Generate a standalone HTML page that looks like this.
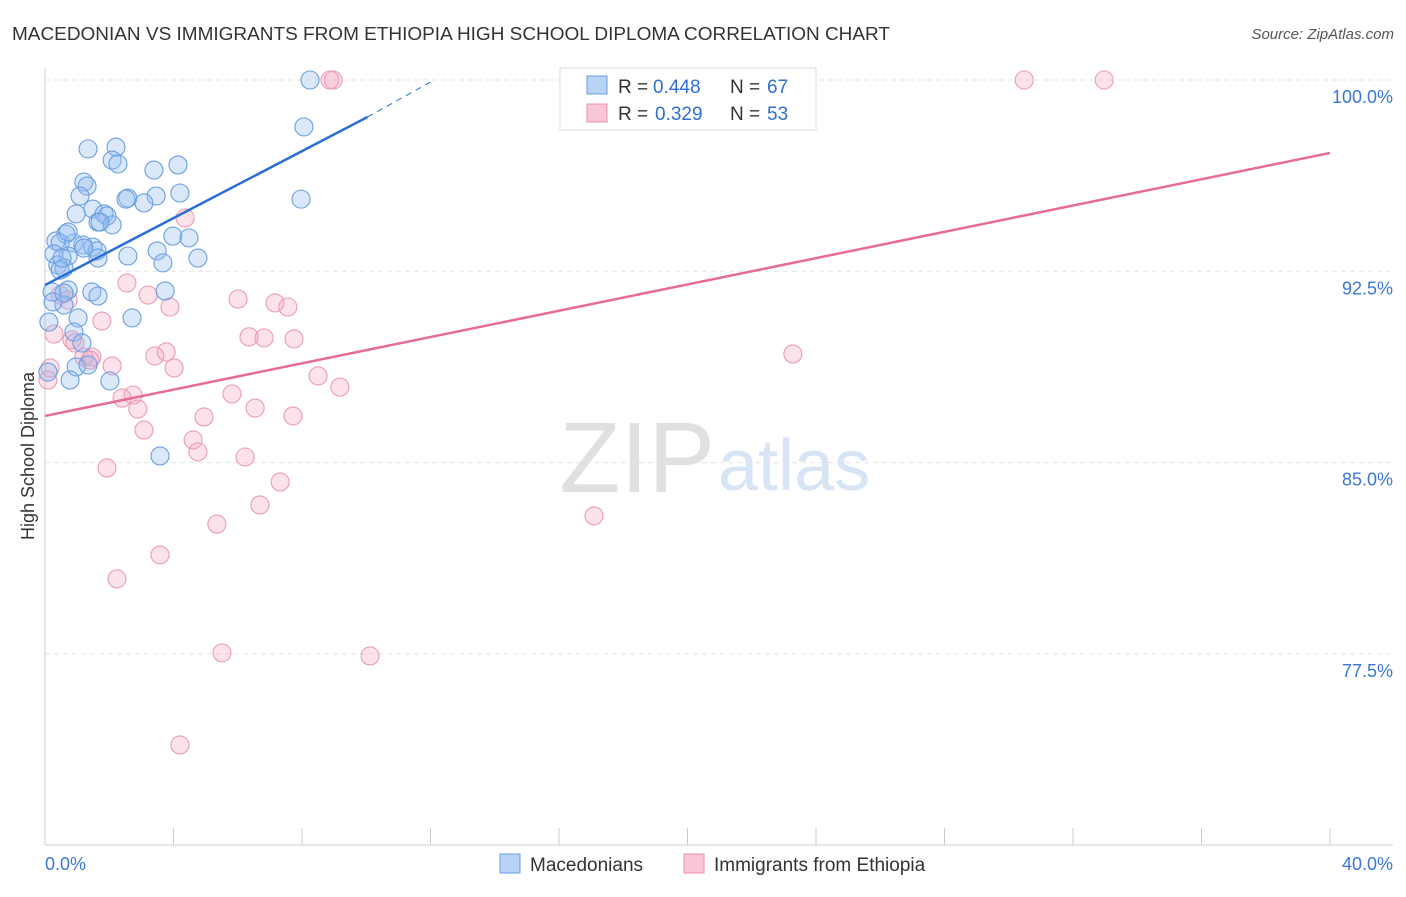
<!DOCTYPE html>
<html><head><meta charset="utf-8"><style>
body{margin:0;background:#fff;font-family:"Liberation Sans",sans-serif}
svg text{font-family:"Liberation Sans",sans-serif}
</style></head><body>
<svg width="1406" height="892" xmlns="http://www.w3.org/2000/svg">
<text x="12" y="40" font-size="18" fill="#333" textLength="878" lengthAdjust="spacingAndGlyphs">MACEDONIAN VS IMMIGRANTS FROM ETHIOPIA HIGH SCHOOL DIPLOMA CORRELATION CHART</text>
<text x="1394" y="39" font-size="15" fill="#555" text-anchor="end" font-style="italic">Source: ZipAtlas.com</text>
<text x="715" y="492" font-size="100" fill="#e0e0e0" text-anchor="end" font-family="Liberation Serif">ZIP</text>
<text x="718" y="490" font-size="72" fill="#d6e4f5">atlas</text>
<g id="grid"></g><g id="axes"></g><g id="marks"></g>
<text transform="translate(34,456) rotate(-90)" font-size="18" fill="#333" text-anchor="middle">High School Diploma</text>
<g>
<rect x="560" y="68" width="256" height="62" fill="#fff" stroke="#ddd"/>
<rect x="587" y="76" width="20" height="18" fill="#b8d3f5" stroke="#6a9ee0"/>
<text x="618" y="93" font-size="19" fill="#333">R = </text>
<text x="653" y="93" font-size="19" fill="#2f6fd0">0.448</text>
<text x="730" y="93" font-size="19" fill="#333">N = </text>
<text x="767" y="93" font-size="19" fill="#2f6fd0">67</text>
<rect x="587" y="104" width="20" height="18" fill="#f9c6d5" stroke="#e890ad"/>
<text x="618" y="120" font-size="19" fill="#333">R = </text>
<text x="655" y="120" font-size="19" fill="#2f6fd0">0.329</text>
<text x="730" y="120" font-size="19" fill="#333">N = </text>
<text x="767" y="120" font-size="19" fill="#2f6fd0">53</text>
</g>
<g>
<rect x="500" y="854" width="20" height="19" fill="#b8d3f5" stroke="#6a9ee0"/>
<text x="530" y="871" font-size="19" fill="#333">Macedonians</text>
<rect x="684" y="854" width="20" height="19" fill="#f9c6d5" stroke="#e890ad"/>
<text x="714" y="871" font-size="19" fill="#333">Immigrants from Ethiopia</text>
</g>
</svg>
<script>
const xTicks=[0,4,8,12,16,20,24,28,32,36,40];
const yTicks=[100,92.5,85,77.5];
const yTickLabels=["100.0%","92.5%","85.0%","77.5%"];
const xEndLabels=["0.0%","40.0%"];
const blueX=[8.25,8.06,1.34,2.21,2.09,2.27,3.39,4.14,1.21,1.31,1.09,2.58,2.52,3.46,3.08,4.20,7.97,1.49,0.97,1.84,1.93,1.65,2.09,0.65,0.34,0.47,0.90,1.18,1.49,1.62,1.21,0.72,0.28,1.65,2.58,3.49,3.67,3.98,4.48,4.76,0.40,0.59,0.47,0.22,0.72,1.46,1.65,3.74,0.59,1.03,2.71,0.12,0.90,1.15,0.97,1.34,2.02,0.78,0.09,3.58,0.25,0.59,1.71,0.72,0.53];
const blueY=[100.0,98.16,97.30,97.37,96.86,96.71,96.47,96.67,96.00,95.84,95.45,95.37,95.33,95.45,95.18,95.57,95.33,94.94,94.75,94.75,94.67,94.43,94.32,93.96,93.69,93.61,93.61,93.53,93.45,93.30,93.41,93.10,93.18,93.02,93.10,93.30,92.83,93.88,93.81,93.02,92.75,92.63,92.55,91.69,91.77,91.69,91.53,91.73,91.18,90.67,90.67,90.51,90.12,89.69,88.75,88.83,88.20,88.24,88.55,85.26,91.30,91.65,94.43,94.04,93.02];
const pinkX=[8.97,8.87,30.48,32.97,4.36,2.55,3.21,6.01,7.16,7.56,3.89,0.72,1.77,0.28,6.35,6.82,7.75,0.93,3.77,3.42,1.21,1.46,2.09,4.02,23.28,8.50,9.18,5.82,2.74,2.40,2.89,4.95,6.54,7.72,3.08,4.61,4.76,6.23,1.93,7.32,6.69,5.35,17.09,3.58,2.24,5.51,10.12,4.20,0.09,0.16,0.84,1.40,0.47];
const pinkY=[100.0,100.0,100.0,100.0,94.59,92.04,91.57,91.41,91.26,91.10,91.10,91.37,90.55,90.04,89.93,89.89,89.85,89.69,89.34,89.18,89.14,89.14,88.79,88.71,89.26,88.40,87.96,87.69,87.65,87.53,87.10,86.79,87.14,86.83,86.28,85.89,85.42,85.22,84.79,84.24,83.34,82.59,82.91,81.38,80.44,77.54,77.42,73.93,88.24,88.71,89.81,89.02,91.57];
const blueTrend=[[0,91.96],[10.04,98.55]];
const blueDash=[[10.04,98.55],[12.0,99.92]];
const pinkTrend=[[0,86.83],[40,97.14]];
const NS="http://www.w3.org/2000/svg";
const sx=v=>45+v/40*1285;
const sy=v=>80+(100-v)/7.5*191.3;
function mk(tag,attrs,parent){const e=document.createElementNS(NS,tag);for(const k in attrs)e.setAttribute(k,attrs[k]);document.getElementById(parent).appendChild(e);return e;}
yTicks.forEach((t,i)=>{
 let g=mk('line',{x1:45,x2:1393,y1:sy(t),y2:sy(t),stroke:'#e4e4e4','stroke-dasharray':'5,4'},'grid');
 
 
 let l=mk('text',{x:1393,y:sy(t)+23,'font-size':18,fill:'#3a78d4','text-anchor':'end'},'axes');l.textContent=yTickLabels[i];
 
 
});
let ax=mk('line',{x1:45,x2:45,y1:68,y2:845,stroke:'#ccc'},'axes');


let bx=mk('line',{x1:45,x2:1393,y1:845,y2:845,stroke:'#ccc'},'axes');


xTicks.forEach(t=>{let m=mk('line',{x1:sx(t),x2:sx(t),y1:828,y2:845,stroke:'#ccc'},'axes');
 
 });
let l0=mk('text',{x:45,y:870,'font-size':18,fill:'#3a78d4'},'axes');l0.textContent=xEndLabels[0];


let l1=mk('text',{x:1393,y:870,'font-size':18,fill:'#3a78d4','text-anchor':'end'},'axes');l1.textContent=xEndLabels[1];


pinkX.forEach((x,i)=>{let c=mk('circle',{cx:sx(x),cy:sy(pinkY[i]),r:9,fill:'rgba(244,160,188,0.3)',stroke:'#eb9bb5','stroke-width':1.1},'marks');
 
 });
blueX.forEach((x,i)=>{let c=mk('circle',{cx:sx(x),cy:sy(blueY[i]),r:9,fill:'rgba(150,190,240,0.35)',stroke:'#6b9fe0','stroke-width':1.1},'marks');
 
 });
let bt=mk('line',{x1:sx(blueTrend[0][0]),y1:sy(blueTrend[0][1]),x2:sx(blueTrend[1][0]),y2:sy(blueTrend[1][1]),stroke:'#2a6fd6','stroke-width':2.5},'marks');


let bd=mk('line',{x1:sx(blueDash[0][0]),y1:sy(blueDash[0][1]),x2:sx(blueDash[1][0]),y2:sy(blueDash[1][1]),stroke:'#2a6fd6','stroke-width':1,'stroke-dasharray':'6,5'},'marks');


let pt=mk('line',{x1:sx(pinkTrend[0][0]),y1:sy(pinkTrend[0][1]),x2:sx(pinkTrend[1][0]),y2:sy(pinkTrend[1][1]),stroke:'#e66b96','stroke-width':2.5},'marks');


</script>
</body></html>
